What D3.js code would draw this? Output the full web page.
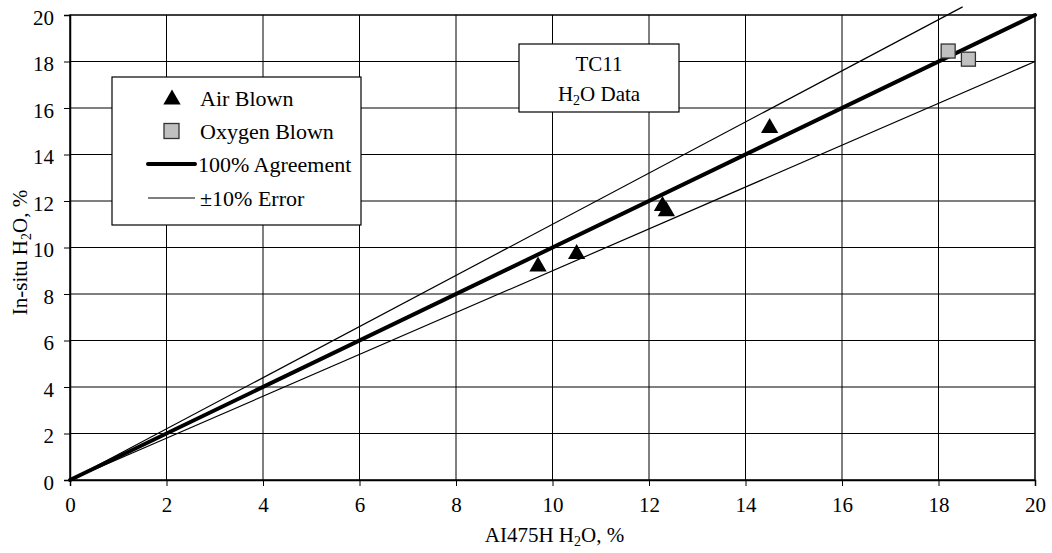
<!DOCTYPE html>
<html><head><meta charset="utf-8">
<script src="https://cdn.jsdelivr.net/npm/d3@7"></script>
<style>body{margin:0;background:#fff}svg{display:block;font-family:"Liberation Serif","Times New Roman",serif}</style>
</head><body><svg id="c" width="1052" height="553"></svg>
<script>
const xTicks=[0,2,4,6,8,10,12,14,16,18,20];
const yTicks=[0,2,4,6,8,10,12,14,16,18,20];
const airX=[9.7,10.5,12.28,12.36,14.5];
const airY=[9.25,9.78,11.85,11.62,15.2];
const oxyX=[18.2,18.62];
const oxyY=[18.45,18.1];
const agreeX=[0,20], agreeY=[0,20];
const plusX=[0,18.5], plusY=[0,20.35];
const minusX=[0,20], minusY=[0,18];
const legendLabels=["Air Blown","Oxygen Blown","100% Agreement","\u00b110% Error"];

const svg=d3.select("#c");
const L=70,R=1035,T=15,B=480;
const x=d3.scaleLinear().domain([0,20]).range([L,R]);
const y=d3.scaleLinear().domain([0,20]).range([B,T]);
const FS=21;
const FF="'Liberation Serif','Times New Roman',serif";

// grid
svg.append("g").selectAll("line").data(xTicks.slice(1,-1)).join("line")
 .attr("x1",d=>x(d)).attr("x2",d=>x(d)).attr("y1",T).attr("y2",B).attr("stroke","#000").attr("stroke-width",1);
svg.append("g").selectAll("line").data(yTicks.slice(1,-1)).join("line")
 .attr("y1",d=>y(d)).attr("y2",d=>y(d)).attr("x1",L).attr("x2",R).attr("stroke","#000").attr("stroke-width",1);
svg.append("rect").attr("x",L).attr("y",T).attr("width",R-L).attr("height",B-T).attr("fill","none").attr("stroke","#000").attr("stroke-width",1.5);

const xa=svg.append("g").attr("transform",`translate(0,${B})`).call(d3.axisBottom(x).tickValues(xTicks).tickSize(6).tickPadding(11).tickFormat(d3.format("d")));
const ya=svg.append("g").attr("transform",`translate(${L},0)`).call(d3.axisLeft(y).tickValues(yTicks).tickSize(6).tickPadding(10).tickFormat(d3.format("d")));
[xa,ya].forEach(a=>{a.attr("font-size",FS).attr("font-family",FF);a.select(".domain").attr("stroke","#000").attr("stroke-width",1.5);a.selectAll("text").attr("fill","#000");a.selectAll(".tick line").attr("stroke","#000");});
ya.selectAll("text").attr("dy","0.45em");

// lines
const line=d3.line().x(d=>x(d[0])).y(d=>y(d[1]));
svg.append("path").datum(plusX.map((v,i)=>[v,plusY[i]])).attr("d",line).attr("stroke","#000").attr("stroke-width",1.2).attr("fill","none");
svg.append("path").datum(minusX.map((v,i)=>[v,minusY[i]])).attr("d",line).attr("stroke","#000").attr("stroke-width",1.2).attr("fill","none");
svg.append("path").datum(agreeX.map((v,i)=>[v,agreeY[i]])).attr("d",line).attr("stroke","#000").attr("stroke-width",4).attr("stroke-linecap","round").attr("fill","none");

// markers
const tri=d3.symbol().type(d3.symbolTriangle).size(130);
svg.append("g").selectAll("path").data(airX.map((v,i)=>[v,airY[i]])).join("path")
 .attr("d",tri).attr("transform",d=>`translate(${x(d[0])},${y(d[1])+1.5})`).attr("fill","#000");
svg.append("g").selectAll("rect").data(oxyX.map((v,i)=>[v,oxyY[i]])).join("rect")
 .attr("x",d=>x(d[0])-7).attr("y",d=>y(d[1])-7).attr("width",14).attr("height",14)
 .attr("fill","#c0c0c0").attr("stroke","#333").attr("stroke-width",1.3);

// legend
const lg=svg.append("g").attr("font-family",FF);
lg.append("rect").attr("x",112).attr("y",77).attr("width",249).attr("height",148).attr("fill","#fff").attr("stroke","#000").attr("stroke-width",1.2);
const ly=[98,131,164,198];
lg.append("path").attr("d",tri).attr("transform",`translate(172,${ly[0]+1.5})`).attr("fill","#000");
lg.append("rect").attr("x",164).attr("y",ly[1]-7.5).attr("width",15).attr("height",15).attr("fill","#c0c0c0").attr("stroke","#333").attr("stroke-width",1.3);
lg.append("line").attr("x1",148).attr("x2",195).attr("y1",ly[2]).attr("y2",ly[2]).attr("stroke","#000").attr("stroke-width",4).attr("stroke-linecap","round");
lg.append("line").attr("x1",148).attr("x2",195).attr("y1",ly[3]).attr("y2",ly[3]).attr("stroke","#000").attr("stroke-width",1.2);
lg.selectAll("text.l").data(legendLabels).join("text").attr("class","l")
 .attr("x",(d,i)=>i===2?198:200).attr("y",(d,i)=>ly[i]+8).attr("font-size",22).text(d=>d);

// title box
const tb=svg.append("g").attr("font-family",FF);
tb.append("rect").attr("x",519).attr("y",44).attr("width",160).attr("height",68).attr("fill","#fff").attr("stroke","#000").attr("stroke-width",1.2);
tb.append("text").attr("x",599).attr("y",71).attr("text-anchor","middle").attr("font-size",FS).text("TC11");
const t2=tb.append("text").attr("x",599).attr("y",101).attr("text-anchor","middle").attr("font-size",FS);
t2.append("tspan").text("H");t2.append("tspan").attr("font-size",14).attr("dy",4).text("2");t2.append("tspan").attr("dy",-4).text("O Data");

// axis titles
const xt=svg.append("text").attr("font-family",FF).attr("x",(L+R)/2+2).attr("y",542).attr("text-anchor","middle").attr("font-size",FS);
xt.append("tspan").text("AI475H H");xt.append("tspan").attr("font-size",14).attr("dy",4).text("2");xt.append("tspan").attr("dy",-4).text("O, %");
const yt=svg.append("text").attr("font-family",FF).attr("transform",`translate(27,${(T+B)/2+5}) rotate(-90)`).attr("text-anchor","middle").attr("font-size",FS);
yt.append("tspan").text("In-situ H");yt.append("tspan").attr("font-size",14).attr("dy",4).text("2");yt.append("tspan").attr("dy",-4).text("O, %");
</script></body></html>
